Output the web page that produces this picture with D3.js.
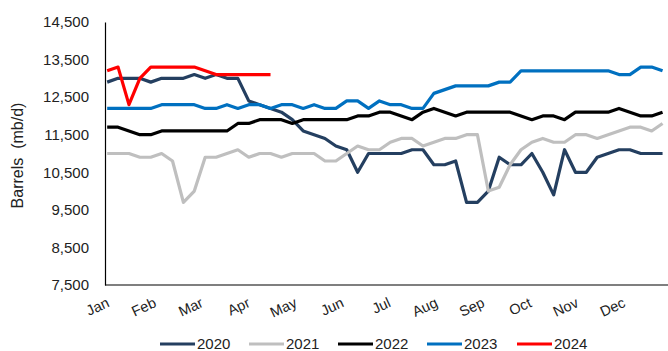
<!DOCTYPE html>
<html>
<head>
<meta charset="utf-8">
<script src="https://cdn.jsdelivr.net/npm/d3@7"></script>
<style>
  html, body { margin: 0; padding: 0; background: #fff; }
  svg { display: block; font-family: "Liberation Sans", Arial, sans-serif; }
</style>
</head>
<body>
<svg id="chart" width="668" height="351"></svg>
<script>
// Weekly crude production, barrels (thousand b/d), one value per week of the year
const months = ["Jan", "Feb", "Mar", "Apr", "May", "Jun", "Jul", "Aug", "Sep", "Oct", "Nov", "Dec"];
const yTicks = [7500, 8500, 9500, 10500, 11500, 12500, 13500, 14500];

const s2020 = [12900, 13000, 13000, 13000, 12900, 13000, 13000, 13000, 13100, 13000,
               13100, 13000, 13000, 12400, 12300, 12200, 12100, 11900, 11600, 11500,
               11400, 11200, 11100, 10500, 11000, 11000, 11000, 11000, 11100, 11100,
               10700, 10700, 10800, 9700, 9700, 10000, 10900, 10700, 10700, 11000,
               10500, 9900, 11100, 10500, 10500, 10900, 11000, 11100, 11100, 11000,
               11000, 11000];
const s2021 = [11000, 11000, 11000, 10900, 10900, 11000, 10800, 9700, 10000, 10900,
               10900, 11000, 11100, 10900, 11000, 11000, 10900, 11000, 11000, 11000,
               10800, 10800, 11000, 11200, 11100, 11100, 11300, 11400, 11400, 11200,
               11300, 11400, 11400, 11500, 11500, 10000, 10100, 10700, 11100, 11300,
               11400, 11300, 11300, 11500, 11500, 11400, 11500, 11600, 11700, 11700,
               11600, 11800];
const s2022 = [11700, 11700, 11600, 11500, 11500, 11600, 11600, 11600, 11600, 11600,
               11600, 11600, 11800, 11800, 11900, 11900, 11900, 11800, 11900, 11900,
               11900, 11900, 11900, 12000, 12000, 12100, 12100, 12000, 11900, 12100,
               12200, 12100, 12000, 12100, 12100, 12100, 12100, 12100, 12000, 11900,
               12000, 12000, 11900, 12100, 12100, 12100, 12100, 12200, 12100, 12000,
               12000, 12100];
const s2023 = [12200, 12200, 12200, 12200, 12200, 12300, 12300, 12300, 12300, 12200,
               12200, 12300, 12200, 12300, 12300, 12200, 12300, 12300, 12200, 12300,
               12200, 12200, 12400, 12400, 12200, 12400, 12300, 12300, 12200, 12200,
               12600, 12700, 12800, 12800, 12800, 12800, 12900, 12900, 13200, 13200,
               13200, 13200, 13200, 13200, 13200, 13200, 13200, 13100, 13100, 13300,
               13300, 13200];
const s2024 = [13200, 13300, 12300, 13000, 13300, 13300, 13300, 13300, 13300, 13200,
               13100, 13100, 13100, 13100, 13100, 13100];

const seriesNames = ["2020", "2021", "2022", "2023", "2024"];
const seriesValues = [s2020, s2021, s2022, s2023, s2024];
const seriesColors = ["#243F60", "#BFBFBF", "#000000", "#0070C0", "#FF0000"];

const svg = d3.select("#chart");
const plotL = 105, plotR = 668, plotT = 22, plotB = 285;

const x = d3.scaleLinear().domain([-0.2, 51.5]).range([plotL, plotR]);
const y = d3.scaleLinear().domain([7500, 14500]).range([plotB, plotT]);
// month starts spread evenly over the year span
const monthStep = (plotR - plotL) / 12;
const xm = d3.scalePoint().domain(months).range([plotL, plotL + monthStep * (months.length - 1)]);

// Y axis
const yAxis = d3.axisLeft(y).tickValues(yTicks).tickFormat(d3.format(","))
  .tickSize(0).tickSizeOuter(0).tickPadding(16);
const gy = svg.append("g").attr("transform", `translate(${plotL},0)`).call(yAxis);
gy.select(".domain").attr("stroke", "#000").attr("stroke-width", 1.2);
gy.selectAll("text").attr("font-size", 15).attr("fill", "#222")
  .attr("font-family", "Liberation Sans, Arial, sans-serif");

// X axis line
svg.append("line").attr("x1", plotL).attr("x2", plotR).attr("y1", plotB).attr("y2", plotB)
  .attr("stroke", "#000").attr("stroke-width", 1.2);

// Month labels, rotated
svg.append("g").selectAll("text").data(months).join("text")
  .attr("transform", d => `translate(${xm(d) + 1},${plotB + 12}) rotate(-25)`)
  .attr("text-anchor", "end")
  .attr("dy", "0.7em")
  .attr("font-size", 14.5)
  .attr("fill", "#222")
  .text(d => d);

// Y axis title
svg.append("text")
  .attr("transform", `translate(23,${(plotT + plotB) / 2 + 2}) rotate(-90)`)
  .attr("text-anchor", "middle")
  .attr("font-size", 16)
  .attr("fill", "#222")
  .style("white-space", "pre")
  .text("Barrels  (mb/d)");

// Lines
const line = d3.line().x((d, i) => x(i)).y(d => y(d));
svg.append("g").selectAll("path").data(seriesValues).join("path")
  .attr("d", d => line(d))
  .attr("fill", "none")
  .attr("stroke", (d, i) => seriesColors[i])
  .attr("stroke-width", 3.2)
  .attr("stroke-linejoin", "round")
  .attr("stroke-linecap", "butt");

// Legend
const legendX = [160, 249, 338, 427, 517];
const lg = svg.append("g").selectAll("g").data(seriesNames).join("g")
  .attr("transform", (d, i) => `translate(${legendX[i]},344)`);
lg.append("line").attr("x1", 0).attr("x2", 35).attr("y1", 0).attr("y2", 0)
  .attr("stroke", (d, i) => seriesColors[i]).attr("stroke-width", 3.2);
lg.append("text").attr("x", 37).attr("dy", "0.36em").attr("font-size", 15)
  .attr("fill", "#222").text(d => d);
</script>
</body>
</html>
